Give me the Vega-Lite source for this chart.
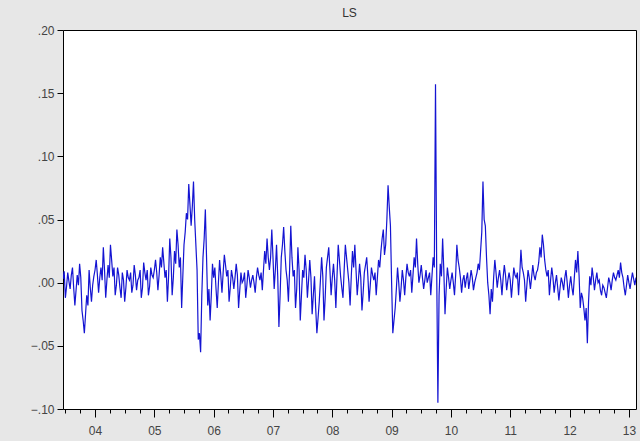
{
  "$schema": "https://vega.github.io/schema/vega-lite/v6.json",
  "autosize": {"type": "none"},
  "width": 573,
  "height": 379,
  "padding": {"left": 63, "top": 30, "right": 4, "bottom": 32},
  "background": "#e7e7e7",
  "view": {"fill": "white", "stroke": "black", "strokeWidth": 1},
  "title": {"text": "LS", "fontSize": 12, "fontWeight": "normal", "font": "Liberation Sans", "color": "#333333", "anchor": "middle", "offset": 4},
  "config": {
    "axis": {"labelFont": "Liberation Sans", "labelFontSize": 12, "labelColor": "#444444", "tickColor": "black", "domain": false, "grid": false}
  },
  "data": {"values": [
{"t":2003.46,"v":0.003},{"t":2003.48,"v":0.009},{"t":2003.50,"v":-0.012},{"t":2003.52,"v":-0.003},{"t":2003.54,"v":0.008},{"t":2003.56,"v":0.001},{"t":2003.58,"v":-0.005},{"t":2003.60,"v":0.006},{"t":2003.62,"v":0.012},{"t":2003.64,"v":-0.004},{"t":2003.66,"v":-0.018},{"t":2003.68,"v":-0.006},{"t":2003.70,"v":0.006},{"t":2003.72,"v":-0.002},{"t":2003.74,"v":0.015},{"t":2003.76,"v":0.004},{"t":2003.78,"v":-0.022},{"t":2003.80,"v":-0.03},{"t":2003.82,"v":-0.04},{"t":2003.84,"v":-0.025},{"t":2003.86,"v":-0.01},{"t":2003.88,"v":-0.018},{"t":2003.90,"v":0.01},{"t":2003.92,"v":-0.004},{"t":2003.94,"v":-0.015},{"t":2003.96,"v":-0.002},{"t":2003.98,"v":0.005},
{"t":2004.00,"v":0.01},{"t":2004.02,"v":0.018},{"t":2004.04,"v":0.006},{"t":2004.06,"v":-0.008},{"t":2004.08,"v":0.004},{"t":2004.10,"v":0.012},{"t":2004.12,"v":0.002},{"t":2004.14,"v":0.028},{"t":2004.16,"v":0.01},{"t":2004.18,"v":-0.012},{"t":2004.20,"v":0.002},{"t":2004.22,"v":0.014},{"t":2004.24,"v":0.004},{"t":2004.26,"v":0.03},{"t":2004.28,"v":0.018},{"t":2004.30,"v":0.005},{"t":2004.32,"v":0.012},{"t":2004.34,"v":-0.01},{"t":2004.36,"v":-0.002},{"t":2004.38,"v":0.012},{"t":2004.40,"v":0.006},{"t":2004.42,"v":-0.004},{"t":2004.44,"v":-0.012},{"t":2004.46,"v":0.008},{"t":2004.48,"v":0.002},{"t":2004.50,"v":-0.015},{"t":2004.52,"v":-0.004},{"t":2004.54,"v":0.01},{"t":2004.56,"v":0.004},{"t":2004.58,"v":0.002},{"t":2004.60,"v":0.008},{"t":2004.62,"v":-0.008},{"t":2004.64,"v":-0.002},{"t":2004.66,"v":0.014},{"t":2004.68,"v":0.006},{"t":2004.70,"v":-0.006},{"t":2004.72,"v":0.002},{"t":2004.74,"v":0.004},{"t":2004.76,"v":0.01},{"t":2004.78,"v":-0.012},{"t":2004.80,"v":-0.004},{"t":2004.82,"v":0.016},{"t":2004.84,"v":0.008},{"t":2004.86,"v":0.002},{"t":2004.88,"v":0.01},{"t":2004.90,"v":-0.01},{"t":2004.92,"v":-0.003},{"t":2004.94,"v":0.012},{"t":2004.96,"v":0.006},{"t":2004.98,"v":0.004},
{"t":2005.00,"v":0.01},{"t":2005.02,"v":0.018},{"t":2005.04,"v":0.008},{"t":2005.06,"v":-0.006},{"t":2005.08,"v":0.006},{"t":2005.10,"v":0.02},{"t":2005.12,"v":0.012},{"t":2005.14,"v":0.028},{"t":2005.16,"v":0.016},{"t":2005.18,"v":0.004},{"t":2005.20,"v":0.01},{"t":2005.22,"v":-0.015},{"t":2005.24,"v":0.005},{"t":2005.26,"v":0.035},{"t":2005.28,"v":0.02},{"t":2005.30,"v":-0.01},{"t":2005.32,"v":0.004},{"t":2005.34,"v":0.025},{"t":2005.36,"v":0.015},{"t":2005.38,"v":0.042},{"t":2005.40,"v":0.03},{"t":2005.42,"v":0.012},{"t":2005.44,"v":0.02},{"t":2005.46,"v":-0.02},{"t":2005.48,"v":0.005},{"t":2005.50,"v":0.03},{"t":2005.52,"v":0.04},{"t":2005.54,"v":0.055},{"t":2005.56,"v":0.05},{"t":2005.58,"v":0.078},{"t":2005.60,"v":0.062},{"t":2005.62,"v":0.045},{"t":2005.64,"v":0.06},{"t":2005.66,"v":0.08},{"t":2005.68,"v":0.05},{"t":2005.70,"v":0.03},{"t":2005.72,"v":0.01},{"t":2005.74,"v":-0.045},{"t":2005.76,"v":-0.04},{"t":2005.78,"v":-0.055},{"t":2005.80,"v":-0.01},{"t":2005.82,"v":0.02},{"t":2005.84,"v":0.035},{"t":2005.86,"v":0.058},{"t":2005.88,"v":0.02},{"t":2005.90,"v":-0.018},{"t":2005.92,"v":-0.005},{"t":2005.94,"v":-0.03},{"t":2005.96,"v":-0.01},{"t":2005.98,"v":0.015},
{"t":2006.00,"v":0.004},{"t":2006.02,"v":0.012},{"t":2006.04,"v":-0.005},{"t":2006.06,"v":-0.02},{"t":2006.08,"v":0.0},{"t":2006.10,"v":0.018},{"t":2006.12,"v":0.006},{"t":2006.14,"v":-0.008},{"t":2006.16,"v":0.008},{"t":2006.18,"v":0.022},{"t":2006.20,"v":0.014},{"t":2006.22,"v":0.005},{"t":2006.24,"v":0.01},{"t":2006.26,"v":-0.015},{"t":2006.28,"v":-0.004},{"t":2006.30,"v":0.01},{"t":2006.32,"v":0.004},{"t":2006.34,"v":-0.005},{"t":2006.36,"v":0.004},{"t":2006.38,"v":0.015},{"t":2006.40,"v":0.006},{"t":2006.42,"v":-0.02},{"t":2006.44,"v":-0.006},{"t":2006.46,"v":0.008},{"t":2006.48,"v":0.0},{"t":2006.50,"v":0.002},{"t":2006.52,"v":0.008},{"t":2006.54,"v":-0.012},{"t":2006.56,"v":-0.002},{"t":2006.58,"v":0.01},{"t":2006.60,"v":0.004},{"t":2006.62,"v":-0.004},{"t":2006.64,"v":0.002},{"t":2006.66,"v":0.006},{"t":2006.68,"v":0.0},{"t":2006.70,"v":-0.008},{"t":2006.72,"v":0.004},{"t":2006.74,"v":0.012},{"t":2006.76,"v":0.006},{"t":2006.78,"v":0.002},{"t":2006.80,"v":0.008},{"t":2006.82,"v":-0.006},{"t":2006.84,"v":0.01},{"t":2006.86,"v":0.025},{"t":2006.88,"v":0.015},{"t":2006.90,"v":0.035},{"t":2006.92,"v":0.02},{"t":2006.94,"v":0.01},{"t":2006.96,"v":0.02},{"t":2006.98,"v":0.042},
{"t":2007.00,"v":0.02},{"t":2007.02,"v":-0.005},{"t":2007.04,"v":0.01},{"t":2007.06,"v":0.03},{"t":2007.08,"v":0.005},{"t":2007.10,"v":-0.035},{"t":2007.12,"v":-0.01},{"t":2007.14,"v":0.02},{"t":2007.16,"v":0.03},{"t":2007.18,"v":0.044},{"t":2007.20,"v":0.025},{"t":2007.22,"v":0.01},{"t":2007.24,"v":0.002},{"t":2007.26,"v":-0.015},{"t":2007.28,"v":0.01},{"t":2007.30,"v":0.045},{"t":2007.32,"v":0.02},{"t":2007.34,"v":0.005},{"t":2007.36,"v":0.01},{"t":2007.38,"v":-0.02},{"t":2007.40,"v":-0.005},{"t":2007.42,"v":0.028},{"t":2007.44,"v":0.01},{"t":2007.46,"v":-0.03},{"t":2007.48,"v":-0.01},{"t":2007.50,"v":0.01},{"t":2007.52,"v":0.004},{"t":2007.54,"v":0.022},{"t":2007.56,"v":0.01},{"t":2007.58,"v":-0.012},{"t":2007.60,"v":0.002},{"t":2007.62,"v":0.018},{"t":2007.64,"v":0.004},{"t":2007.66,"v":-0.025},{"t":2007.68,"v":-0.01},{"t":2007.70,"v":0.005},{"t":2007.72,"v":-0.02},{"t":2007.74,"v":-0.04},{"t":2007.76,"v":-0.028},{"t":2007.78,"v":-0.015},{"t":2007.80,"v":0.002},{"t":2007.82,"v":0.02},{"t":2007.84,"v":0.005},{"t":2007.86,"v":-0.03},{"t":2007.88,"v":-0.012},{"t":2007.90,"v":0.012},{"t":2007.92,"v":0.02},{"t":2007.94,"v":0.028},{"t":2007.96,"v":0.01},{"t":2007.98,"v":-0.01},
{"t":2008.00,"v":0.004},{"t":2008.02,"v":0.015},{"t":2008.04,"v":0.002},{"t":2008.06,"v":-0.02},{"t":2008.08,"v":0.006},{"t":2008.10,"v":0.03},{"t":2008.12,"v":0.018},{"t":2008.14,"v":0.005},{"t":2008.16,"v":-0.004},{"t":2008.18,"v":-0.012},{"t":2008.20,"v":0.01},{"t":2008.22,"v":0.03},{"t":2008.24,"v":0.02},{"t":2008.26,"v":0.01},{"t":2008.28,"v":0.0},{"t":2008.30,"v":-0.018},{"t":2008.32,"v":0.005},{"t":2008.34,"v":0.025},{"t":2008.36,"v":0.012},{"t":2008.38,"v":0.03},{"t":2008.40,"v":0.01},{"t":2008.42,"v":-0.01},{"t":2008.44,"v":0.002},{"t":2008.46,"v":0.015},{"t":2008.48,"v":0.004},{"t":2008.50,"v":-0.022},{"t":2008.52,"v":-0.008},{"t":2008.54,"v":0.008},{"t":2008.56,"v":0.014},{"t":2008.58,"v":0.02},{"t":2008.60,"v":0.005},{"t":2008.62,"v":-0.015},{"t":2008.64,"v":-0.002},{"t":2008.66,"v":0.012},{"t":2008.68,"v":0.006},{"t":2008.70,"v":0.002},{"t":2008.72,"v":0.008},{"t":2008.74,"v":-0.01},{"t":2008.76,"v":0.004},{"t":2008.78,"v":0.018},{"t":2008.80,"v":0.012},{"t":2008.82,"v":0.025},{"t":2008.84,"v":0.035},{"t":2008.86,"v":0.042},{"t":2008.88,"v":0.022},{"t":2008.90,"v":0.03},{"t":2008.92,"v":0.05},{"t":2008.94,"v":0.077},{"t":2008.96,"v":0.06},{"t":2008.98,"v":0.045},
{"t":2009.00,"v":0.0},{"t":2009.02,"v":-0.04},{"t":2009.04,"v":-0.03},{"t":2009.06,"v":-0.02},{"t":2009.08,"v":-0.005},{"t":2009.10,"v":0.012},{"t":2009.12,"v":0.0},{"t":2009.14,"v":-0.015},{"t":2009.16,"v":-0.004},{"t":2009.18,"v":0.01},{"t":2009.20,"v":0.002},{"t":2009.22,"v":-0.01},{"t":2009.24,"v":0.004},{"t":2009.26,"v":0.015},{"t":2009.28,"v":0.008},{"t":2009.30,"v":0.005},{"t":2009.32,"v":0.01},{"t":2009.34,"v":-0.008},{"t":2009.36,"v":0.006},{"t":2009.38,"v":0.02},{"t":2009.40,"v":0.012},{"t":2009.42,"v":0.035},{"t":2009.44,"v":0.015},{"t":2009.46,"v":0.0},{"t":2009.48,"v":0.006},{"t":2009.50,"v":0.014},{"t":2009.52,"v":0.004},{"t":2009.54,"v":-0.005},{"t":2009.56,"v":0.002},{"t":2009.58,"v":0.01},{"t":2009.60,"v":0.0},{"t":2009.62,"v":0.004},{"t":2009.64,"v":0.008},{"t":2009.66,"v":-0.01},{"t":2009.68,"v":0.005},{"t":2009.70,"v":0.02},{"t":2009.72,"v":0.012},{"t":2009.74,"v":0.157},{"t":2009.76,"v":0.01},{"t":2009.78,"v":-0.095},{"t":2009.80,"v":-0.01},{"t":2009.82,"v":0.015},{"t":2009.84,"v":0.005},{"t":2009.86,"v":0.035},{"t":2009.88,"v":0.01},{"t":2009.90,"v":-0.025},{"t":2009.92,"v":-0.005},{"t":2009.94,"v":0.012},{"t":2009.96,"v":0.004},{"t":2009.98,"v":-0.005},
{"t":2010.00,"v":0.002},{"t":2010.02,"v":0.008},{"t":2010.04,"v":0.0},{"t":2010.06,"v":-0.01},{"t":2010.08,"v":0.006},{"t":2010.10,"v":0.03},{"t":2010.12,"v":0.018},{"t":2010.14,"v":0.012},{"t":2010.16,"v":0.004},{"t":2010.18,"v":-0.008},{"t":2010.20,"v":0.002},{"t":2010.22,"v":0.006},{"t":2010.24,"v":-0.004},{"t":2010.26,"v":0.003},{"t":2010.28,"v":0.008},{"t":2010.30,"v":-0.005},{"t":2010.32,"v":0.002},{"t":2010.34,"v":0.01},{"t":2010.36,"v":0.004},{"t":2010.38,"v":-0.006},{"t":2010.40,"v":0.0},{"t":2010.42,"v":0.004},{"t":2010.44,"v":0.008},{"t":2010.46,"v":0.015},{"t":2010.48,"v":0.01},{"t":2010.50,"v":0.025},{"t":2010.52,"v":0.04},{"t":2010.54,"v":0.08},{"t":2010.56,"v":0.05},{"t":2010.58,"v":0.045},{"t":2010.60,"v":0.02},{"t":2010.62,"v":0.0},{"t":2010.64,"v":-0.01},{"t":2010.66,"v":-0.025},{"t":2010.68,"v":-0.005},{"t":2010.70,"v":-0.015},{"t":2010.72,"v":0.004},{"t":2010.74,"v":0.018},{"t":2010.76,"v":0.008},{"t":2010.78,"v":-0.004},{"t":2010.80,"v":0.004},{"t":2010.82,"v":0.01},{"t":2010.84,"v":0.002},{"t":2010.86,"v":-0.01},{"t":2010.88,"v":0.004},{"t":2010.90,"v":0.014},{"t":2010.92,"v":0.006},{"t":2010.94,"v":-0.006},{"t":2010.96,"v":0.002},{"t":2010.98,"v":0.008},
{"t":2011.00,"v":0.002},{"t":2011.02,"v":-0.012},{"t":2011.04,"v":0.0},{"t":2011.06,"v":0.012},{"t":2011.08,"v":0.006},{"t":2011.10,"v":0.004},{"t":2011.12,"v":0.008},{"t":2011.14,"v":-0.01},{"t":2011.16,"v":0.006},{"t":2011.18,"v":0.026},{"t":2011.20,"v":0.012},{"t":2011.22,"v":0.008},{"t":2011.24,"v":0.002},{"t":2011.26,"v":-0.015},{"t":2011.28,"v":-0.002},{"t":2011.30,"v":0.01},{"t":2011.32,"v":0.004},{"t":2011.34,"v":-0.005},{"t":2011.36,"v":0.004},{"t":2011.38,"v":0.014},{"t":2011.40,"v":0.006},{"t":2011.42,"v":0.002},{"t":2011.44,"v":0.008},{"t":2011.46,"v":0.01},{"t":2011.48,"v":0.016},{"t":2011.50,"v":0.028},{"t":2011.52,"v":0.02},{"t":2011.54,"v":0.038},{"t":2011.56,"v":0.03},{"t":2011.58,"v":0.018},{"t":2011.60,"v":0.01},{"t":2011.62,"v":0.005},{"t":2011.64,"v":0.01},{"t":2011.66,"v":-0.01},{"t":2011.68,"v":0.002},{"t":2011.70,"v":0.012},{"t":2011.72,"v":0.004},{"t":2011.74,"v":-0.008},{"t":2011.76,"v":0.0},{"t":2011.78,"v":0.006},{"t":2011.80,"v":-0.004},{"t":2011.82,"v":-0.014},{"t":2011.84,"v":-0.004},{"t":2011.86,"v":0.004},{"t":2011.88,"v":0.0},{"t":2011.90,"v":-0.006},{"t":2011.92,"v":0.004},{"t":2011.94,"v":0.01},{"t":2011.96,"v":0.0},{"t":2011.98,"v":-0.012},
{"t":2012.00,"v":-0.002},{"t":2012.02,"v":0.005},{"t":2012.04,"v":-0.004},{"t":2012.06,"v":-0.01},{"t":2012.08,"v":0.004},{"t":2012.10,"v":0.018},{"t":2012.12,"v":0.008},{"t":2012.14,"v":0.025},{"t":2012.16,"v":0.006},{"t":2012.18,"v":-0.02},{"t":2012.20,"v":-0.008},{"t":2012.22,"v":-0.012},{"t":2012.24,"v":-0.02},{"t":2012.26,"v":-0.03},{"t":2012.28,"v":-0.02},{"t":2012.30,"v":-0.048},{"t":2012.32,"v":-0.015},{"t":2012.34,"v":0.005},{"t":2012.36,"v":-0.002},{"t":2012.38,"v":0.012},{"t":2012.40,"v":0.004},{"t":2012.42,"v":-0.006},{"t":2012.44,"v":0.002},{"t":2012.46,"v":0.008},{"t":2012.48,"v":0.0},{"t":2012.50,"v":0.002},{"t":2012.52,"v":-0.006},{"t":2012.54,"v":-0.01},{"t":2012.56,"v":-0.002},{"t":2012.58,"v":-0.004},{"t":2012.60,"v":-0.008},{"t":2012.62,"v":-0.012},{"t":2012.64,"v":-0.004},{"t":2012.66,"v":0.004},{"t":2012.68,"v":0.0},{"t":2012.70,"v":-0.006},{"t":2012.72,"v":0.002},{"t":2012.74,"v":0.008},{"t":2012.76,"v":0.004},{"t":2012.78,"v":0.002},{"t":2012.80,"v":0.006},{"t":2012.82,"v":0.01},{"t":2012.84,"v":0.004},{"t":2012.86,"v":0.016},{"t":2012.88,"v":0.008},{"t":2012.90,"v":0.004},{"t":2012.92,"v":-0.004},{"t":2012.94,"v":-0.01},{"t":2012.96,"v":-0.002},{"t":2012.98,"v":0.006},
{"t":2013.00,"v":0.0},{"t":2013.02,"v":-0.005},{"t":2013.04,"v":0.002},{"t":2013.06,"v":0.008},{"t":2013.08,"v":0.003},{"t":2013.10,"v":-0.002},{"t":2013.12,"v":0.004}
  ]},
  "mark": {"type": "line", "color": "#1414d2", "strokeWidth": 1.2, "clip": true},
  "encoding": {
    "x": {"field": "t", "type": "quantitative", "title": null,
      "scale": {"domain": [2003.46, 2013.12], "nice": false, "zero": false},
      "axis": {
        "values": [2003.5, 2003.75, 2004, 2004.25, 2004.5, 2004.75, 2005, 2005.25, 2005.5, 2005.75, 2006, 2006.25, 2006.5, 2006.75, 2007, 2007.25, 2007.5, 2007.75, 2008, 2008.25, 2008.5, 2008.75, 2009, 2009.25, 2009.5, 2009.75, 2010, 2010.25, 2010.5, 2010.75, 2011, 2011.25, 2011.5, 2011.75, 2012, 2012.25, 2012.5, 2012.75, 2013],
        "labelExpr": "datum.value % 1 == 0 ? slice(format(datum.value, 'd'), 2) : ''",
        "labelOverlap": false, "labelFlush": false, "labelPadding": 8,
        "tickSize": {"condition": {"test": "datum.value % 1 == 0", "value": 8}, "value": 4}
      }
    },
    "y": {"field": "v", "type": "quantitative", "title": null,
      "scale": {"domain": [-0.1, 0.2], "nice": false, "zero": false},
      "axis": {
        "values": [-0.1, -0.05, 0, 0.05, 0.1, 0.15, 0.2],
        "labelExpr": "replace(format(datum.value, '.2f'), '0.', '.')",
        "tickSize": 6, "labelPadding": 3
      }
    }
  }
}
